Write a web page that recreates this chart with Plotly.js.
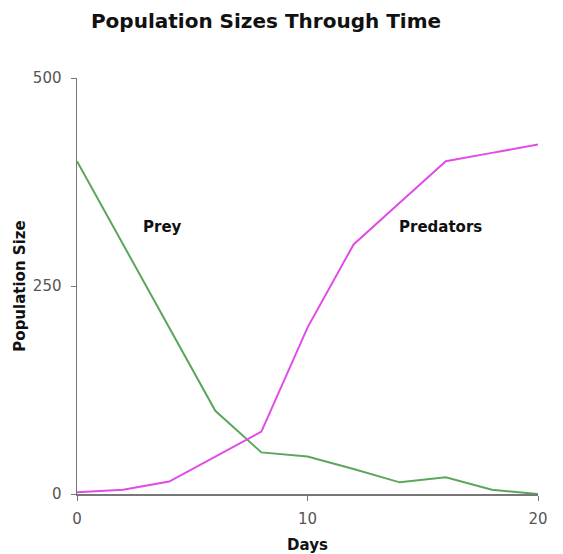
<!DOCTYPE html>
<html>
<head>
<meta charset="utf-8">
<script src="https://cdn.plot.ly/plotly-3.0.1.min.js"></script>
<style>html,body{margin:0;padding:0;background:#fff;}</style>
</head>
<body>
<div id="chart" style="width:563px;height:554px;"></div>
<script>
const days = [0, 2, 4, 6, 8, 10, 12, 14, 16, 18, 20];
const prey = [400, 300, 200, 100, 50, 45, 30, 14, 20, 5, 0];
const predators = [2, 5, 15, 45, 75, 200, 300, 350, 400, 410, 420];
const labelText = ["Prey", "Predators"];
const labelX = [3.7, 15.75];
const labelY = [321, 321];

const FONT = "DejaVu Sans, Verdana, sans-serif";

const traces = [
  {x: days, y: prey, type: "scatter", mode: "lines", name: "Prey",
   line: {color: "#5ca65c", width: 2}},
  {x: days, y: predators, type: "scatter", mode: "lines", name: "Predators",
   line: {color: "#e04ce8", width: 2}}
];

const layout = {
  width: 563, height: 554,
  margin: {l: 77, r: 25, t: 78, b: 60},
  paper_bgcolor: "#fff", plot_bgcolor: "#fff",
  showlegend: false,
  font: {family: FONT, color: "#555"},
  title: {text: "Population Sizes Through Time", xref: "container", x: 0.4725, xanchor: "center",
          yref: "container", y: 0.962, yanchor: "middle",
          font: {family: FONT, size: 20, color: "#111", weight: "bold"}},
  xaxis: {range: [0, 20], tickvals: [0, 10, 20], ticktext: ["0", "10", "20"],
          showgrid: false, zeroline: false, showline: true, linecolor: "#777", linewidth: 1.5,
          ticks: "outside", ticklen: 5, tickcolor: "#777", tickfont: {size: 15, color: "#555"},
          ticklabelstandoff: 5,
          title: {text: "Days", standoff: 14, font: {size: 15, color: "#111", weight: "bold"}}},
  yaxis: {range: [0, 500], tickvals: [0, 250, 500], ticktext: ["0", "250", "500"],
          showgrid: false, zeroline: false, showline: true, linecolor: "#777", linewidth: 1.5,
          ticks: "outside", ticklen: 5, tickcolor: "#777", tickfont: {size: 15, color: "#555"},
          ticklabelstandoff: 6,
          title: {text: "Population Size", standoff: 3, font: {size: 15, color: "#111", weight: "bold"}}},
  annotations: labelText.map((t, i) => ({
    x: labelX[i], y: labelY[i], xref: "x", yref: "y", text: t, showarrow: false,
    font: {size: 15, color: "#111", weight: "bold", family: FONT}
  }))
};

Plotly.newPlot("chart", traces, layout, {displayModeBar: false, staticPlot: true});
</script>
</body>
</html>
